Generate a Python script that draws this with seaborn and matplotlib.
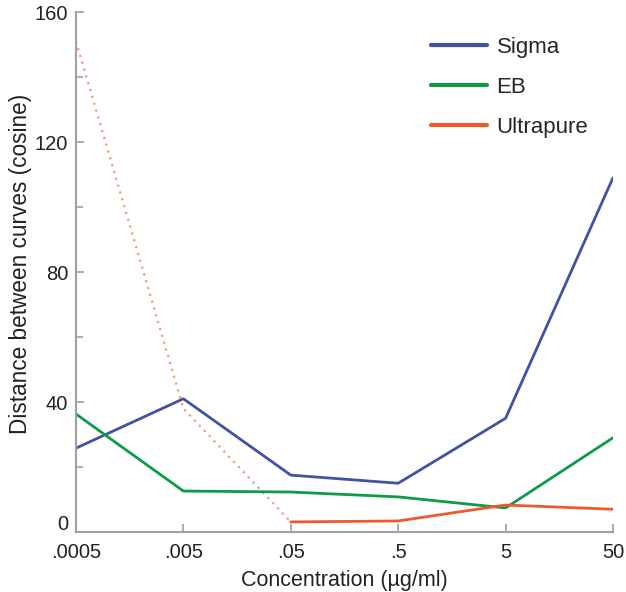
import matplotlib
matplotlib.use("Agg")
import matplotlib.pyplot as plt
import matplotlib.ticker as mticker
import matplotlib.transforms as mtransforms
import pandas as pd
import seaborn as sns

# concentrations (ug/ml) and distance values
conc = [0.0005, 0.005, 0.05, 0.5, 5, 50]
conc_labels = [".0005", ".005", ".05", ".5", "5", "50"]
sigma = [25.8, 41.0, 17.5, 15.0, 35.0, 109.0]
eb = [36.3, 12.6, 12.3, 10.8, 7.4, 29.0]
ultrapure = [3.1, 3.4, 8.3, 7.0]
ultrapure_conc = conc[2:]
# dotted extrapolation of the ultrapure curve at low concentrations
ultrapure_low = [151.0, 38.0, 3.1]
ultrapure_low_conc = conc[:3]

palette = {"Sigma": "#4152a3", "EB": "#0f9a47", "Ultrapure": "#f05a28"}

sns.set_style("white", {"xtick.direction": "in", "ytick.direction": "in",
                        "xtick.bottom": True, "ytick.left": True})
plt.rcParams["font.family"] = ["Liberation Sans", "DejaVu Sans"]

df = pd.concat([
    pd.DataFrame({"conc": conc, "dist": sigma, "sample": "Sigma"}),
    pd.DataFrame({"conc": conc, "dist": eb, "sample": "EB"}),
    pd.DataFrame({"conc": ultrapure_conc, "dist": ultrapure, "sample": "Ultrapure"}),
])
low = pd.DataFrame({"conc": ultrapure_low_conc, "dist": ultrapure_low})

fig = plt.figure(figsize=(6.26, 5.92), dpi=100)
ax = fig.add_axes([76 / 626, 60 / 592, 537 / 626, 520 / 592])

sns.lineplot(data=low, x="conc", y="dist", ax=ax, color="#f7967e",
             linestyle=(0, (1, 2.2)), linewidth=1.6, legend=False)
sns.lineplot(data=df, x="conc", y="dist", hue="sample", palette=palette,
             ax=ax, linewidth=2.0)

ax.set_xscale("log")
ax.set_xlim(conc[0], conc[-1])
ax.set_xticks(conc)
ax.set_xticklabels(conc_labels)
ax.xaxis.set_minor_locator(mticker.NullLocator())
ax.set_ylim(0, 160)
ax.set_yticks([0, 40, 80, 120, 160])
ax.yaxis.set_minor_locator(mticker.MultipleLocator(20))

for side in ["top", "right"]:
    ax.spines[side].set_visible(False)
for side in ["left", "bottom"]:
    ax.spines[side].set_color("#a0a0a0")
    ax.spines[side].set_linewidth(1.5)
ax.tick_params(which="both", left=True, bottom=True, direction="in",
               color="#a0a0a0", width=1.2, labelsize=14.5,
               labelcolor="#222222")
ax.tick_params(axis="x", which="both", pad=8)
ax.tick_params(axis="y", which="both", pad=5.5)
ax.tick_params(which="major", length=6)
ax.tick_params(which="minor", length=5)

# the 0 label sits a little above the x axis in the original
zero_label = ax.get_yticklabels()[0]
zero_label.set_transform(zero_label.get_transform()
                         + mtransforms.ScaledTranslation(0, 9 / 100, fig.dpi_scale_trans))

ax.set_xlabel("Concentration (\u00b5g/ml)", fontsize=15.5, color="#222222", labelpad=6)
ax.set_ylabel("Distance between curves (cosine)", fontsize=16.3, color="#222222", labelpad=2)
ax.yaxis.label.set_y(0.515)

handles, labels = ax.get_legend_handles_labels()
for h in handles:
    h.set_linewidth(3)
ax.legend(handles, labels, loc="upper left", bbox_to_anchor=(411 / 626, 1 - 17 / 592),
          bbox_transform=fig.transFigure, frameon=False, fontsize=16,
          handlelength=2.5, labelspacing=0.85, handletextpad=0.45)

fig.savefig("out.png", dpi=100)
